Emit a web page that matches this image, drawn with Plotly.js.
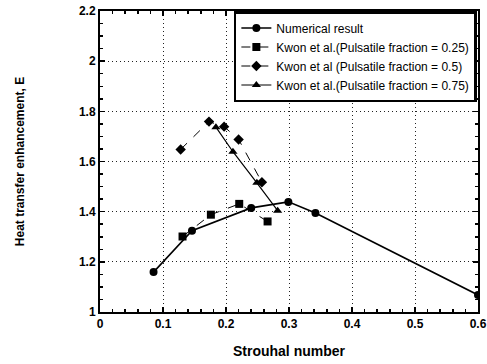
<!DOCTYPE html>
<html>
<head>
<script src="https://cdn.plot.ly/plotly-3.0.1.min.js"></script>
<style>html,body{margin:0;padding:0;background:#fff;}#chart{width:487px;height:364px;}</style>
</head>
<body>
<div id="chart"></div>
<script>
// Numerical result
const numX = [0.085, 0.146, 0.240, 0.299, 0.342, 0.600];
const numY = [1.159, 1.324, 1.415, 1.439, 1.395, 1.068];
// Kwon et al. (Pulsatile fraction = 0.25)
const k25X = [0.131, 0.176, 0.221, 0.266];
const k25Y = [1.301, 1.388, 1.431, 1.361];
// Kwon et al. (Pulsatile fraction = 0.5)
const k50X = [0.128, 0.173, 0.197, 0.220, 0.257];
const k50Y = [1.648, 1.759, 1.739, 1.688, 1.517];
// Kwon et al. (Pulsatile fraction = 0.75)
const k75X = [0.184, 0.211, 0.249, 0.282];
const k75Y = [1.737, 1.639, 1.515, 1.404];

const names = [
  'Numerical result',
  'Kwon et al.(Pulsatile fraction = 0.25)',
  'Kwon et al (Pulsatile fraction = 0.5)',
  'Kwon et al.(Pulsatile fraction = 0.75)'
];

const FONT = 'Arial, Liberation Sans, sans-serif';

const traces = [
  {x: numX, y: numY, name: names[0], mode: 'lines+markers',
   line: {color: '#000', width: 1.6}, marker: {symbol: 'circle', size: 8, color: '#000'}},
  {x: k25X, y: k25Y, name: names[1], mode: 'lines+markers',
   line: {color: '#000', width: 1, dash: 'dash'}, marker: {symbol: 'square', size: 8, color: '#000'}},
  {x: k50X, y: k50Y, name: names[2], mode: 'lines+markers',
   line: {color: '#000', width: 1, dash: 'dash'}, marker: {symbol: 'diamond', size: 8, color: '#000'}},
  {x: k75X, y: k75Y, name: names[3], mode: 'lines+markers',
   line: {color: '#000', width: 1.2}, marker: {symbol: 'triangle-up', size: 8, color: '#000'}}
];

const axisCommon = {
  showline: true, linecolor: '#000', linewidth: 2, mirror: 'ticks',
  ticks: 'inside', ticklen: 5, tickcolor: '#000', tickwidth: 1.5,
  showgrid: true, gridcolor: '#222', gridwidth: 1, griddash: '1px,3px',
  zeroline: false, automargin: false,
  tickfont: {family: FONT, size: 12, color: '#000', weight: 'bold'}
};

const layout = {
  width: 487, height: 364,
  margin: {l: 100, r: 9, t: 11, b: 52},
  paper_bgcolor: '#fff', plot_bgcolor: '#fff',
  showlegend: true,
  legend: {
    x: 0.997, y: 1.0, xanchor: 'right', yanchor: 'top',
    bgcolor: '#fff', bordercolor: '#000', borderwidth: 2.5,
    font: {family: FONT, size: 12, color: '#000'},
    tracegroupgap: 0, itemwidth: 30
  },
  xaxis: Object.assign({}, axisCommon, {
    range: [0, 0.6], dtick: 0.1, tick0: 0,
    tickformat: '.1~f',
    minor: {ticks: 'inside', dtick: 0.02, ticklen: 3, tickcolor: '#000', showgrid: false},
    title: {text: 'Strouhal number', standoff: 16,
      font: {family: FONT, size: 14, color: '#000', weight: 'bold'}}
  }),
  yaxis: Object.assign({}, axisCommon, {
    range: [1, 2.2], dtick: 0.2, tick0: 1,
    tickformat: '.1~f',
    minor: {ticks: 'inside', dtick: 0.05, ticklen: 3, tickcolor: '#000', showgrid: false},
    title: {text: 'Heat transfer enhancement, E', standoff: 52,
      font: {family: FONT, size: 12, color: '#000', weight: 'bold'}}
  })
};

Plotly.newPlot('chart', traces, layout, {displayModeBar: false, staticPlot: true});
</script>
</body>
</html>
